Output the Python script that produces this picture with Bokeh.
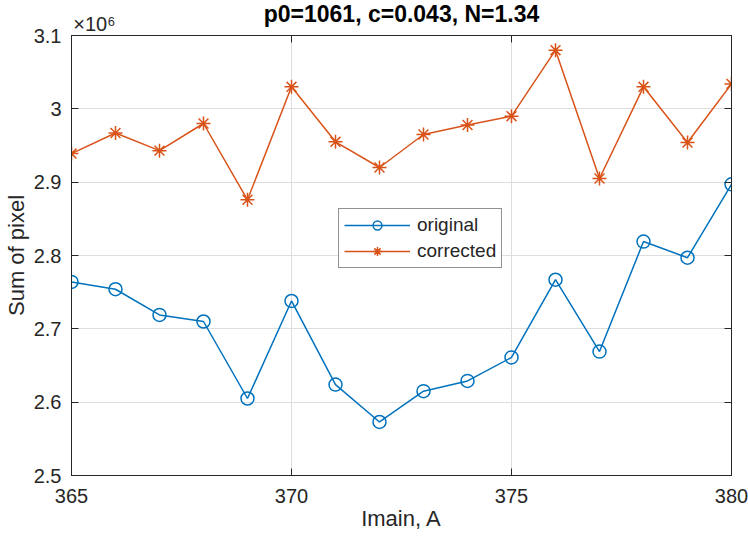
from bokeh.plotting import figure
from bokeh.models import (Range1d, FixedTicker, LinearAxis, Legend, Title,
                          LegendItem, CustomJSTickFormatter, CustomLabelingPolicy)
from bokeh.embed import file_html
from bokeh.resources import INLINE

# ---- data (values in units of 10^6) ----
current = [365, 366, 367, 368, 369, 370, 371, 372, 373, 374, 375, 376, 377, 378, 379, 380]
original = [2.764, 2.754, 2.719, 2.710, 2.605, 2.738, 2.624, 2.573,
            2.615, 2.629, 2.661, 2.767, 2.669, 2.819, 2.797, 2.897]
corrected = [2.939, 2.967, 2.943, 2.980, 2.876, 3.030, 2.955, 2.920,
             2.965, 2.978, 2.990, 3.080, 2.905, 3.030, 2.954, 3.034]
x_ticks = [365, 370, 375, 380]
y_ticks = [2.5, 2.6, 2.7, 2.8, 2.9, 3.0, 3.1]
title_text = "p0=1061, c=0.043, N=1.34"
x_label = "Imain, A"
y_label = "Sum of pixel"
scale_text = "×10⁶"
series_names = ["original", "corrected"]

FONT = "Liberation Sans"
AX = "#262626"
BLUE = "#0072BD"
ORANGE = "#D95319"
SCALE_LABEL_X = 365.52   # where the exponent note sits above the frame

p = figure(width=748, height=545, output_backend="svg", toolbar_location=None,
           x_range=Range1d(365, 380), y_range=Range1d(2.5, 3.1),
           min_border_left=71, min_border_right=17, min_border_top=35,
           min_border_bottom=70, background_fill_color="white",
           border_fill_color="white", outline_line_color=AX)

hide_all = CustomLabelingPolicy(code="""
    for (const i of indices)
        indices.unset(i)
    return indices
""")

def style_axis(ax, ticks, show_labels=True):
    ax.ticker = FixedTicker(ticks=ticks)
    ax.axis_line_color = AX
    ax.major_tick_line_color = AX
    ax.major_tick_in = 7
    ax.major_tick_out = 0
    ax.minor_tick_line_color = None
    ax.major_label_text_font = FONT
    ax.major_label_text_color = AX
    if show_labels:
        ax.major_label_text_font_size = "20px"
    else:
        ax.major_label_text_font_size = "0px"
        ax.major_label_policy = hide_all
        ax.major_label_standoff = 0

style_axis(p.xaxis[0], x_ticks)
style_axis(p.yaxis[0], y_ticks)
p.xaxis[0].major_label_standoff = 13
p.yaxis[0].major_label_standoff = 10
p.yaxis[0].formatter = CustomJSTickFormatter(code="return (Math.round(tick*10)/10).toString();")
for ax, lab, stand in ((p.xaxis[0], x_label, 0), (p.yaxis[0], y_label, 2)):
    ax.axis_label = lab
    ax.axis_label_text_font = FONT
    ax.axis_label_text_font_size = "22px"
    ax.axis_label_text_font_style = "normal"
    ax.axis_label_text_color = AX
    ax.axis_label_standoff = stand

# box ticks on top and right (MATLAB "box on")
top_ax = LinearAxis()
right_ax = LinearAxis()
style_axis(top_ax, x_ticks, show_labels=False)
style_axis(right_ax, y_ticks, show_labels=False)
p.add_layout(top_ax, "above")
p.add_layout(right_ax, "right")

# exponent note "×10⁶" above the top-left corner
scale_ax = LinearAxis(ticker=FixedTicker(ticks=[SCALE_LABEL_X]),
                      formatter=CustomJSTickFormatter(args=dict(t=scale_text), code="return t;"),
                      axis_line_color=None, major_tick_line_color=None,
                      minor_tick_line_color=None, major_label_standoff=-5,
                      major_label_text_font=FONT, major_label_text_font_size="20px",
                      major_label_text_color=AX)
p.add_layout(scale_ax, "above")

# title, pulled down into the same row as the exponent note
p.add_layout(Title(text=title_text, align="center", standoff=-34,
                   text_font=FONT, text_font_size="23px",
                   text_font_style="bold", text_color="black"), "above")

p.xgrid.ticker = FixedTicker(ticks=x_ticks)
p.ygrid.ticker = FixedTicker(ticks=y_ticks)
p.xgrid.grid_line_color = "#dedede"
p.ygrid.grid_line_color = "#dedede"

l1 = p.line(current, original, line_color=BLUE, line_width=1.5)
s1 = p.scatter(current, original, marker="circle", size=13, fill_color=None,
               line_color=BLUE, line_width=1.5)
l2 = p.line(current, corrected, line_color=ORANGE, line_width=1.5)
s2 = p.scatter(current, corrected, marker="asterisk", size=14,
               line_color=ORANGE, line_width=1.5)

legend = Legend(items=[LegendItem(label=series_names[0], renderers=[l1, s1]),
                       LegendItem(label=series_names[1], renderers=[l2, s2])],
                location=(267, 207), border_line_color=AX, border_line_width=1,
                background_fill_color="white", background_fill_alpha=1,
                label_text_font=FONT, label_text_font_size="19px",
                label_text_color=AX, glyph_width=66, glyph_height=22,
                label_height=22, label_standoff=7, padding=5, spacing=4,
                margin=0)
p.add_layout(legend, "center")

open("out.html", "w").write(file_html(p, INLINE))
